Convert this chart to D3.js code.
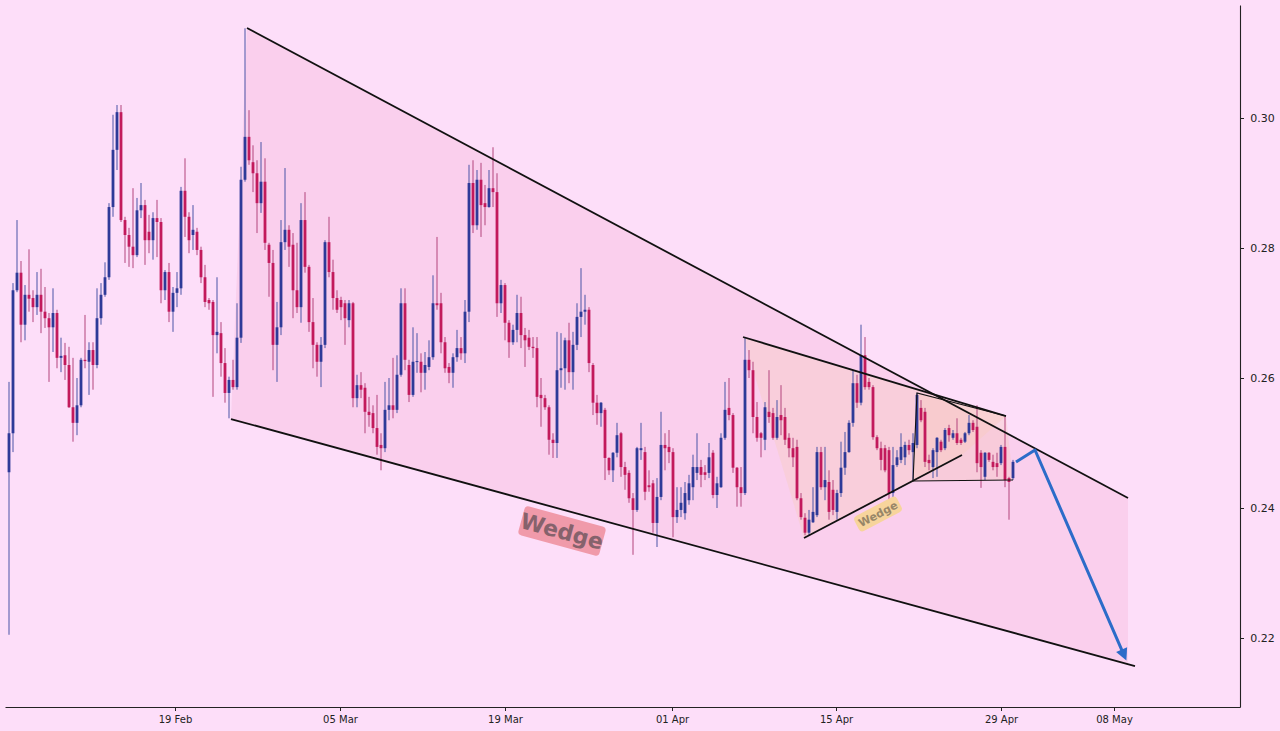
<!DOCTYPE html>
<html><head><meta charset="utf-8">
<script src="https://cdn.jsdelivr.net/npm/d3@7"></script>
<style>html,body{margin:0;padding:0;background:#FDDEF9;} svg{display:block;font-family:"DejaVu Sans",sans-serif;}</style>
</head><body><svg id="c" width="1280" height="731"></svg>
<script>
// ---- candle data (8h candles, index-based) ----
const open=[0.2455,0.2515,0.2735,0.2762,0.2682,0.2728,0.2723,0.2709,0.2728,0.2702,
0.2692,0.2678,0.2700,0.2631,0.2635,0.2620,0.2555,0.2531,0.2558,0.2628,
0.2625,0.2643,0.2620,0.2692,0.2728,0.2755,0.2863,0.2951,0.3009,0.2843,
0.2820,0.2802,0.2789,0.2858,0.2866,0.2825,0.2812,0.2846,0.2840,0.2735,
0.2763,0.2702,0.2731,0.2738,0.2888,0.2848,0.2820,0.2825,0.2797,0.2755,
0.2720,0.2717,0.2666,0.2669,0.2623,0.2577,0.2597,0.2586,0.2662,0.2905,
0.2971,0.2932,0.2915,0.2869,0.2902,0.2805,0.2777,0.2651,0.2678,0.2809,
0.2828,0.2805,0.2735,0.2709,0.2843,0.2771,0.2686,0.2651,0.2625,0.2651,
0.2809,0.2763,0.2723,0.2720,0.2715,0.2689,0.2715,0.2569,0.2589,0.2585,
0.2548,0.2546,0.2523,0.2497,0.2492,0.2551,0.2558,0.2551,0.2605,0.2715,
0.2620,0.2574,0.2625,0.2625,0.2608,0.2617,0.2632,0.2715,0.2715,0.2655,
0.2617,0.2608,0.2632,0.2646,0.2638,0.2702,0.2900,0.2835,0.2905,0.2869,
0.2863,0.2892,0.2886,0.2715,0.2743,0.2685,0.2655,0.2674,0.2700,0.2666,
0.2662,0.2648,0.2646,0.2574,0.2569,0.2555,0.2505,0.2500,0.2612,0.2615,
0.2658,0.2609,0.2651,0.2694,0.2702,0.2705,0.2620,0.2562,0.2546,0.2551,
0.2477,0.2458,0.2485,0.2515,0.2463,0.2454,0.2415,0.2397,0.2489,0.2486,
0.2435,0.2438,0.2377,0.2417,0.2497,0.2494,0.2486,0.2386,0.2397,0.2392,
0.2412,0.2432,0.2454,0.2463,0.2455,0.2454,0.2485,0.2420,0.2432,0.2508,
0.2554,0.2543,0.2462,0.2432,0.2423,0.2628,0.2612,0.2540,0.2515,0.2505,
0.2548,0.2546,0.2508,0.2543,0.2540,0.2508,0.2492,0.2494,0.2415,0.2385,
0.2362,0.2378,0.2389,0.2486,0.2432,0.2440,0.2428,0.2394,0.2423,0.2462,
0.2486,0.2531,0.2592,0.2562,0.2635,0.2594,0.2586,0.2509,0.2492,0.2492,
0.2489,0.2423,0.2466,0.2474,0.2478,0.2497,0.2486,0.2497,0.2554,0.2548,
0.2474,0.2463,0.2486,0.2502,0.2492,0.2523,0.2508,0.2515,0.2505,0.2502,
0.2515,0.2531,0.2525,0.2485,0.2448,0.2485,0.2471,0.2469,0.2469,0.2494,
0.2446,0.2446];
const high=[0.2594,0.2746,0.2843,0.2780,0.2743,0.2798,0.2735,0.2763,0.2768,0.2740,
0.2700,0.2738,0.2705,0.2662,0.2654,0.2648,0.2631,0.2600,0.2631,0.2697,
0.2655,0.2655,0.2738,0.2746,0.2778,0.2869,0.3005,0.3020,0.3020,0.2848,
0.2831,0.2892,0.2877,0.2900,0.2874,0.2851,0.2855,0.2874,0.2846,0.2766,
0.2777,0.2740,0.2763,0.2894,0.2938,0.2855,0.2866,0.2831,0.2802,0.2774,
0.2723,0.2720,0.2755,0.2686,0.2646,0.2602,0.2628,0.2715,0.2925,0.3138,
0.3012,0.2958,0.2935,0.2963,0.2938,0.2808,0.2797,0.2717,0.2843,0.2923,
0.2835,0.2823,0.2808,0.2869,0.2886,0.2774,0.2723,0.2655,0.2663,0.2812,
0.2848,0.2782,0.2735,0.2725,0.2720,0.2720,0.2717,0.2605,0.2609,0.2592,
0.2571,0.2558,0.2574,0.2515,0.2594,0.2600,0.2631,0.2635,0.2738,0.2738,
0.2628,0.2678,0.2669,0.2638,0.2640,0.2658,0.2758,0.2817,0.2731,0.2663,
0.2623,0.2638,0.2674,0.2663,0.2720,0.2928,0.2935,0.2920,0.2931,0.2897,
0.2920,0.2955,0.2915,0.2751,0.2746,0.2689,0.2682,0.2728,0.2725,0.2677,
0.2674,0.2663,0.2663,0.2600,0.2574,0.2558,0.2515,0.2671,0.2669,0.2662,
0.2685,0.2671,0.2715,0.2769,0.2728,0.2709,0.2623,0.2574,0.2563,0.2554,
0.2478,0.2486,0.2531,0.2517,0.2471,0.2458,0.2423,0.2494,0.2531,0.2494,
0.2458,0.2443,0.2446,0.2548,0.2515,0.2520,0.2492,0.2432,0.2432,0.2440,
0.2451,0.2482,0.2515,0.2474,0.2466,0.2500,0.2489,0.2448,0.2515,0.2594,
0.2600,0.2546,0.2463,0.2463,0.2663,0.2643,0.2625,0.2563,0.2517,0.2563,
0.2612,0.2554,0.2566,0.2589,0.2554,0.2515,0.2508,0.2505,0.2423,0.2392,
0.2397,0.2432,0.2494,0.2494,0.2494,0.2458,0.2443,0.2428,0.2502,0.2517,
0.2535,0.2612,0.2605,0.2682,0.2663,0.2600,0.2589,0.2512,0.2502,0.2497,
0.2494,0.2494,0.2489,0.2515,0.2502,0.2505,0.2515,0.2577,0.2566,0.2554,
0.2482,0.2492,0.2509,0.2505,0.2523,0.2528,0.2520,0.2538,0.2508,0.2517,
0.2543,0.2535,0.2558,0.2489,0.2486,0.2486,0.2482,0.2485,0.2497,0.2540,
0.2448,0.2474];
const low=[0.2205,0.2486,0.2732,0.2655,0.2658,0.2702,0.2686,0.2697,0.2669,0.2677,
0.2594,0.2640,0.2615,0.2609,0.2597,0.2554,0.2502,0.2512,0.2555,0.2615,
0.2574,0.2582,0.2615,0.2682,0.2725,0.2751,0.2848,0.2920,0.2840,0.2777,
0.2771,0.2769,0.2786,0.2846,0.2774,0.2792,0.2782,0.2786,0.2715,0.2720,
0.2686,0.2671,0.2709,0.2728,0.2817,0.2792,0.2797,0.2789,0.2746,0.2709,
0.2705,0.2571,0.2638,0.2602,0.2562,0.2538,0.2582,0.2582,0.2654,0.2902,
0.2928,0.2886,0.2823,0.2854,0.2797,0.2725,0.2612,0.2594,0.2666,0.2797,
0.2771,0.2692,0.2700,0.2685,0.2762,0.2671,0.2615,0.2602,0.2586,0.2646,
0.2755,0.2705,0.2700,0.2689,0.2651,0.2678,0.2555,0.2555,0.2569,0.2515,
0.2525,0.2515,0.2482,0.2458,0.2486,0.2535,0.2538,0.2546,0.2602,0.2612,
0.2563,0.2571,0.2608,0.2578,0.2582,0.2612,0.2628,0.2705,0.2638,0.2608,
0.2592,0.2585,0.2625,0.2628,0.2623,0.2686,0.2823,0.2828,0.2817,0.2835,
0.2862,0.2863,0.2694,0.2700,0.2658,0.2631,0.2651,0.2655,0.2646,0.2617,
0.2643,0.2631,0.2555,0.2525,0.2551,0.2482,0.2477,0.2477,0.2585,0.2582,
0.2592,0.2582,0.2643,0.2663,0.2682,0.2609,0.2543,0.2528,0.2525,0.2443,
0.2451,0.2440,0.2478,0.2448,0.2428,0.2408,0.2328,0.2394,0.2474,0.2412,
0.2425,0.2362,0.2340,0.2412,0.2458,0.2469,0.2355,0.2377,0.2386,0.2382,
0.2405,0.2412,0.2443,0.2432,0.2443,0.2446,0.2415,0.2400,0.2431,0.2505,
0.2535,0.2454,0.2402,0.2402,0.2420,0.2600,0.2515,0.2502,0.2478,0.2489,
0.2531,0.2505,0.2505,0.2512,0.2497,0.2478,0.2463,0.2412,0.2382,0.2358,
0.2358,0.2377,0.2386,0.2428,0.2412,0.2382,0.2389,0.2382,0.2417,0.2451,
0.2485,0.2525,0.2554,0.2558,0.2582,0.2582,0.2505,0.2489,0.2458,0.2455,
0.2409,0.2417,0.2463,0.2469,0.2466,0.2482,0.2443,0.2492,0.2532,0.2463,
0.2458,0.2446,0.2448,0.2486,0.2489,0.2502,0.2505,0.2497,0.2497,0.2500,
0.2512,0.2517,0.2455,0.2431,0.2443,0.2471,0.2458,0.2448,0.2466,0.2432,
0.2382,0.2443];
const close=[0.2515,0.2735,0.2762,0.2682,0.2728,0.2722,0.2709,0.2728,0.2702,0.2692,
0.2678,0.2700,0.2631,0.2634,0.2620,0.2555,0.2531,0.2558,0.2628,0.2626,
0.2643,0.2620,0.2692,0.2728,0.2755,0.2863,0.2951,0.3009,0.2843,0.2820,
0.2802,0.2789,0.2858,0.2866,0.2812,0.2812,0.2846,0.2840,0.2735,0.2763,
0.2702,0.2731,0.2738,0.2888,0.2848,0.2812,0.2828,0.2797,0.2755,0.2717,
0.2715,0.2666,0.2671,0.2623,0.2577,0.2597,0.2586,0.2662,0.2905,0.2971,
0.2935,0.2915,0.2869,0.2902,0.2808,0.2777,0.2651,0.2678,0.2809,0.2828,
0.2802,0.2735,0.2709,0.2843,0.2771,0.2686,0.2651,0.2625,0.2651,0.2809,
0.2763,0.2723,0.2705,0.2709,0.2692,0.2715,0.2569,0.2589,0.2582,0.2548,
0.2543,0.2523,0.2494,0.2492,0.2551,0.2558,0.2551,0.2605,0.2715,0.2628,
0.2574,0.2625,0.2626,0.2608,0.2620,0.2632,0.2715,0.2712,0.2655,0.2615,
0.2608,0.2632,0.2646,0.2638,0.2702,0.2900,0.2835,0.2905,0.2866,0.2863,
0.2892,0.2886,0.2715,0.2743,0.2685,0.2655,0.2674,0.2700,0.2666,0.2658,
0.2648,0.2646,0.2571,0.2569,0.2555,0.2505,0.2500,0.2612,0.2615,0.2658,
0.2609,0.2651,0.2694,0.2702,0.2705,0.2623,0.2562,0.2546,0.2562,0.2477,
0.2458,0.2485,0.2512,0.2463,0.2451,0.2415,0.2397,0.2492,0.2492,0.2425,
0.2432,0.2377,0.2417,0.2497,0.2492,0.2486,0.2386,0.2397,0.2408,0.2423,
0.2438,0.2463,0.2463,0.2451,0.2451,0.2478,0.2420,0.2438,0.2508,0.2551,
0.2543,0.2462,0.2432,0.2423,0.2628,0.2612,0.2540,0.2508,0.2508,0.2555,
0.2540,0.2508,0.2540,0.2535,0.2505,0.2492,0.2478,0.2415,0.2386,0.2362,
0.2382,0.2394,0.2486,0.2432,0.2443,0.2394,0.2397,0.2423,0.2462,0.2486,
0.2531,0.2592,0.2562,0.2635,0.2586,0.2586,0.2509,0.2492,0.2474,0.2458,
0.2423,0.2466,0.2478,0.2494,0.2497,0.2489,0.2500,0.2574,0.2535,0.2471,
0.2469,0.2489,0.2508,0.2489,0.2520,0.2512,0.2515,0.2500,0.2500,0.2515,
0.2531,0.2520,0.2469,0.2463,0.2485,0.2474,0.2463,0.2463,0.2494,0.2443,
0.2440,0.2471];

// ---- axis ticks ----
const xTickIdx=[41.5,82.75,124,165.75,206.75,248,276.25];
const xTickLabels=["19 Feb","05 Mar","19 Mar","01 Apr","15 Apr","29 Apr","08 May"];
const yTickValues=[0.22,0.24,0.26,0.28,0.30];

// ---- drawn patterns (candle index, price) ----
const bigUpper=[[59.5,0.31385],[279.75,0.24154]];
const bigLower=[[55.5,0.25369],[281.5,0.21569]];
const midUpper=[[183.5,0.26631],[249.25,0.25415]];
const midLower=[[198.75,0.23538],[238.25,0.24815]];
const smallBox=[[227,0.25769],[249.25,0.25415],[251,0.24431],[226,0.24415]];
const projection=[[251.75,0.24708],[256.5,0.24892],[278.75,0.21738]];
const bigLabel={i:138.25,p:0.23646,text:"Wedge"};
const smallLabel={i:217.25,p:0.23908,text:"Wedge"};

const svg=d3.select("#c");
const W=1280,H=731;
svg.append("rect").attr("width",W).attr("height",H).attr("fill","#FDDEF9");

const x=d3.scaleLinear().domain([-1,307.75]).range([5,1240]);
const y=d3.scaleLinear().domain([0.209385,0.317385]).range([707,5]);
const line=d3.line().x(d=>x(d[0])).y(d=>y(d[1]));

function interp(seg,i){const [a,b]=seg;return a[1]+(b[1]-a[1])*(i-a[0])/(b[0]-a[0]);}

// big wedge fill
const rEdge=bigUpper[1][0];
const bigPoly=[bigUpper[0],bigUpper[1],[rEdge,interp(bigLower,rEdge)],bigLower[0]];
svg.append("path").attr("d",line(bigPoly)+"Z").attr("fill","#F4B9DA").attr("fill-opacity",0.38);
// middle wedge fill
const midPoly=[midUpper[0],midUpper[1],midLower[1],midLower[0]];
svg.append("path").attr("d",line(midPoly)+"Z").attr("fill","#F8CCC0").attr("fill-opacity",0.4);
// small box fill
svg.append("path").attr("d",line(smallBox)+"Z").attr("fill","#F6C4B0").attr("fill-opacity",0.3);

// candles
const data=open.map((o,i)=>({i,o,h:high[i],l:low[i],c:close[i]}));
const UP="#2E3A98",DN="#C21A5C";
const cg=svg.append("g");
cg.selectAll("line.w").data(data).join("line")
  .attr("x1",d=>x(d.i)).attr("x2",d=>x(d.i))
  .attr("y1",d=>y(d.h)).attr("y2",d=>y(d.l))
  .attr("stroke",d=>d.c>=d.o?"#4a55a6":"#b3447c").attr("stroke-width",1);
cg.selectAll("rect.b").data(data).join("rect")
  .attr("x",d=>x(d.i)-1.4).attr("width",2.8)
  .attr("y",d=>y(Math.max(d.o,d.c)))
  .attr("height",d=>Math.max(1,Math.abs(y(d.o)-y(d.c))))
  .attr("fill",d=>d.c>=d.o?UP:DN);

// pattern lines
const lg=svg.append("g").attr("fill","none").attr("stroke","#111").attr("stroke-width",1.8);
[bigUpper,bigLower,midUpper,midLower].forEach(s=>lg.append("path").attr("d",line(s)));
lg.append("path").attr("d",line([smallBox[1],smallBox[0],smallBox[3],smallBox[2]])).attr("stroke-width",1.1);

// labels
function angleOf(seg){return Math.atan2(y(seg[1][1])-y(seg[0][1]),x(seg[1][0])-x(seg[0][0]))*180/Math.PI;}
function label(L,ang,w,h,fs,fill,col){
  const g=svg.append("g").attr("transform",`translate(${x(L.i)},${y(L.p)}) rotate(${ang})`);
  g.append("rect").attr("x",-w/2).attr("y",-h/2).attr("width",w).attr("height",h).attr("rx",4).attr("fill",fill);
  g.append("text").attr("text-anchor","middle").attr("dy","0.36em").attr("font-size",fs).attr("font-weight","bold")
   .attr("fill",col).text(L.text);
}
label(bigLabel,angleOf(bigLower),84,30,22,"#F09AAA","#86626c");
label(smallLabel,angleOf(midLower),48,17,11,"#F7D49C","#978668");

// projection arrow
svg.append("path").attr("d",line(projection)).attr("fill","none").attr("stroke","#2C6CC9").attr("stroke-width",3).attr("stroke-linejoin","round");
{
  const a=projection[projection.length-2],b=projection[projection.length-1];
  const ax=x(a[0]),ay=y(a[1]),bx=x(b[0]),by=y(b[1]);
  const ang=Math.atan2(by-ay,bx-ax)*180/Math.PI;
  svg.append("path").attr("d","M6,0 L-6,-6 L-6,6 Z").attr("fill","#2C6CC9")
    .attr("transform",`translate(${bx},${by}) rotate(${ang})`);
}

// axes
const xa=svg.append("g").attr("transform","translate(0,707)")
  .call(d3.axisBottom(x).tickValues(xTickIdx).tickFormat((d,k)=>xTickLabels[k]).tickSize(4).tickSizeOuter(0));
xa.select(".domain").attr("stroke","#222").attr("stroke-width",1.1);
xa.selectAll("text").attr("font-size",10).attr("font-family","DejaVu Sans").attr("fill","#222").attr("dy","0.9em");
xa.selectAll(".tick line").attr("stroke","#222");
const ya=svg.append("g").attr("transform","translate(1240,0)")
  .call(d3.axisRight(y).tickValues(yTickValues).tickFormat(d3.format(".2f")).tickSize(4).tickSizeOuter(0));
ya.select(".domain").attr("stroke","#222").attr("stroke-width",1.1);
ya.selectAll("text").attr("font-size",11).attr("font-family","DejaVu Sans").attr("fill","#222").attr("dx","0.3em");
ya.selectAll(".tick line").attr("stroke","#222");
</script></body></html>
